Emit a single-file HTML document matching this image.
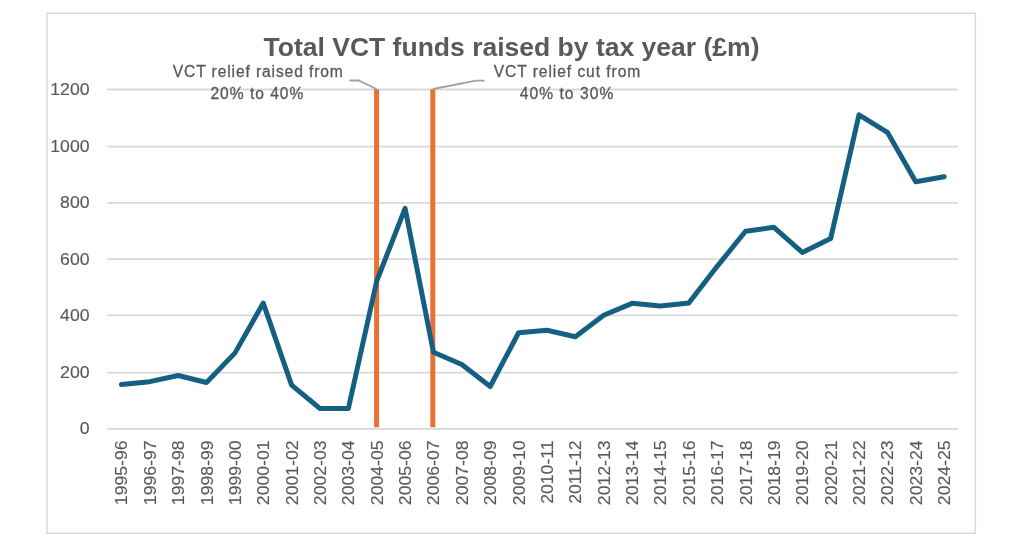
<!DOCTYPE html>
<html><head><meta charset="utf-8"><title>Total VCT funds raised by tax year</title>
<style>
html,body{margin:0;padding:0;background:#fff;}
body{width:1024px;height:555px;overflow:hidden;}
svg{display:block;}
.t{font-family:"Liberation Sans",Arial,sans-serif;font-size:16.8px;fill:#595959;stroke:#595959;stroke-width:0.15px;}
.a{font-family:"Liberation Sans",Arial,sans-serif;font-size:15.6px;fill:#595959;stroke:#595959;stroke-width:0.3px;}
.title{font-family:"Liberation Sans",Arial,sans-serif;font-size:25px;font-weight:bold;fill:#595959;}
</style></head>
<body>
<svg width="1024" height="555" viewBox="0 0 1024 555">
<defs><filter id="gs" x="0" y="0" width="1024" height="555" filterUnits="userSpaceOnUse"><feColorMatrix type="saturate" values="0"/></filter></defs>
<rect width="1024" height="555" fill="#fff"/>
<rect x="46.95" y="13.35" width="928.45" height="519.95" fill="none" stroke="#d9d9d9" stroke-width="1.5"/>
<line x1="107.2" x2="957.9" y1="428.95" y2="428.95" stroke="#d9d9d9" stroke-width="1.8"/>
<line x1="107.2" x2="957.9" y1="372.60" y2="372.60" stroke="#d9d9d9" stroke-width="1.8"/>
<line x1="107.2" x2="957.9" y1="315.40" y2="315.40" stroke="#d9d9d9" stroke-width="1.8"/>
<line x1="107.2" x2="957.9" y1="259.16" y2="259.16" stroke="#d9d9d9" stroke-width="1.8"/>
<line x1="107.2" x2="957.9" y1="202.95" y2="202.95" stroke="#d9d9d9" stroke-width="1.8"/>
<line x1="107.2" x2="957.9" y1="146.60" y2="146.60" stroke="#d9d9d9" stroke-width="1.8"/>
<line x1="107.2" x2="957.9" y1="89.49" y2="89.49" stroke="#d9d9d9" stroke-width="1.8"/>
<line x1="376.60" x2="376.60" y1="89.3" y2="427.2" stroke="#e97132" stroke-width="5"/>
<line x1="432.80" x2="432.80" y1="89.3" y2="427.2" stroke="#e97132" stroke-width="5"/>
<polyline points="121.40,384.51 149.77,381.68 178.14,375.46 206.51,382.53 234.88,353.12 263.25,303.08 291.62,385.07 319.99,408.54 348.36,408.54 376.73,281.02 405.10,208.36 433.47,352.27 461.84,364.43 490.21,386.49 518.58,332.76 546.95,330.22 575.32,336.72 603.69,315.23 632.06,303.36 660.43,305.90 688.80,303.08 717.17,266.32 745.54,231.26 773.91,227.30 802.28,252.46 830.65,238.61 859.02,114.76 887.39,132.30 915.76,181.78 944.13,176.69" fill="none" stroke="#156082" stroke-width="5" stroke-linejoin="round" stroke-linecap="round"/>
<polyline points="349.5,80.5 358.5,80.5 376.5,89" fill="none" stroke="#a0a0a0" stroke-width="1.8"/>
<polyline points="433,89 476,80.7 484.5,80.7" fill="none" stroke="#a0a0a0" stroke-width="1.8"/>
<g filter="url(#gs)">
<text transform="translate(89.5,434.35) scale(1.05,1)" text-anchor="end" class="t">0</text>
<text transform="translate(89.5,378.00) scale(1.05,1)" text-anchor="end" class="t">200</text>
<text transform="translate(89.5,320.80) scale(1.05,1)" text-anchor="end" class="t">400</text>
<text transform="translate(89.5,264.56) scale(1.05,1)" text-anchor="end" class="t">600</text>
<text transform="translate(89.5,208.35) scale(1.05,1)" text-anchor="end" class="t">800</text>
<text transform="translate(89.5,152.00) scale(1.05,1)" text-anchor="end" class="t">1000</text>
<text transform="translate(89.5,94.89) scale(1.05,1)" text-anchor="end" class="t">1200</text>
<text transform="translate(127.40,440.4) rotate(-90) scale(1.05,1)" text-anchor="end" class="t">1995-96</text>
<text transform="translate(155.77,440.4) rotate(-90) scale(1.05,1)" text-anchor="end" class="t">1996-97</text>
<text transform="translate(184.14,440.4) rotate(-90) scale(1.05,1)" text-anchor="end" class="t">1997-98</text>
<text transform="translate(212.51,440.4) rotate(-90) scale(1.05,1)" text-anchor="end" class="t">1998-99</text>
<text transform="translate(240.88,440.4) rotate(-90) scale(1.05,1)" text-anchor="end" class="t">1999-00</text>
<text transform="translate(269.25,440.4) rotate(-90) scale(1.05,1)" text-anchor="end" class="t">2000-01</text>
<text transform="translate(297.62,440.4) rotate(-90) scale(1.05,1)" text-anchor="end" class="t">2001-02</text>
<text transform="translate(325.99,440.4) rotate(-90) scale(1.05,1)" text-anchor="end" class="t">2002-03</text>
<text transform="translate(354.36,440.4) rotate(-90) scale(1.05,1)" text-anchor="end" class="t">2003-04</text>
<text transform="translate(382.73,440.4) rotate(-90) scale(1.05,1)" text-anchor="end" class="t">2004-05</text>
<text transform="translate(411.10,440.4) rotate(-90) scale(1.05,1)" text-anchor="end" class="t">2005-06</text>
<text transform="translate(439.47,440.4) rotate(-90) scale(1.05,1)" text-anchor="end" class="t">2006-07</text>
<text transform="translate(467.84,440.4) rotate(-90) scale(1.05,1)" text-anchor="end" class="t">2007-08</text>
<text transform="translate(496.21,440.4) rotate(-90) scale(1.05,1)" text-anchor="end" class="t">2008-09</text>
<text transform="translate(524.58,440.4) rotate(-90) scale(1.05,1)" text-anchor="end" class="t">2009-10</text>
<text transform="translate(552.95,440.4) rotate(-90) scale(1.05,1)" text-anchor="end" class="t">2010-11</text>
<text transform="translate(581.32,440.4) rotate(-90) scale(1.05,1)" text-anchor="end" class="t">2011-12</text>
<text transform="translate(609.69,440.4) rotate(-90) scale(1.05,1)" text-anchor="end" class="t">2012-13</text>
<text transform="translate(638.06,440.4) rotate(-90) scale(1.05,1)" text-anchor="end" class="t">2013-14</text>
<text transform="translate(666.43,440.4) rotate(-90) scale(1.05,1)" text-anchor="end" class="t">2014-15</text>
<text transform="translate(694.80,440.4) rotate(-90) scale(1.05,1)" text-anchor="end" class="t">2015-16</text>
<text transform="translate(723.17,440.4) rotate(-90) scale(1.05,1)" text-anchor="end" class="t">2016-17</text>
<text transform="translate(751.54,440.4) rotate(-90) scale(1.05,1)" text-anchor="end" class="t">2017-18</text>
<text transform="translate(779.91,440.4) rotate(-90) scale(1.05,1)" text-anchor="end" class="t">2018-19</text>
<text transform="translate(808.28,440.4) rotate(-90) scale(1.05,1)" text-anchor="end" class="t">2019-20</text>
<text transform="translate(836.65,440.4) rotate(-90) scale(1.05,1)" text-anchor="end" class="t">2020-21</text>
<text transform="translate(865.02,440.4) rotate(-90) scale(1.05,1)" text-anchor="end" class="t">2021-22</text>
<text transform="translate(893.39,440.4) rotate(-90) scale(1.05,1)" text-anchor="end" class="t">2022-23</text>
<text transform="translate(921.76,440.4) rotate(-90) scale(1.05,1)" text-anchor="end" class="t">2023-24</text>
<text transform="translate(950.13,440.4) rotate(-90) scale(1.05,1)" text-anchor="end" class="t">2024-25</text>
<text x="511.5" y="55.5" text-anchor="middle" class="title" textLength="496" lengthAdjust="spacingAndGlyphs">Total VCT funds raised by tax year (£m)</text>
<text x="257.8" y="76.6" text-anchor="middle" class="a" textLength="170" lengthAdjust="spacing">VCT relief raised from</text>
<text x="256.9" y="98.6" text-anchor="middle" class="a" textLength="93" lengthAdjust="spacing">20% to 40%</text>
<text x="567" y="76.6" text-anchor="middle" class="a" textLength="146.5" lengthAdjust="spacing">VCT relief cut from</text>
<text x="566.5" y="98.6" text-anchor="middle" class="a" textLength="93.7" lengthAdjust="spacing">40% to 30%</text>
</g>
</svg>
</body></html>
